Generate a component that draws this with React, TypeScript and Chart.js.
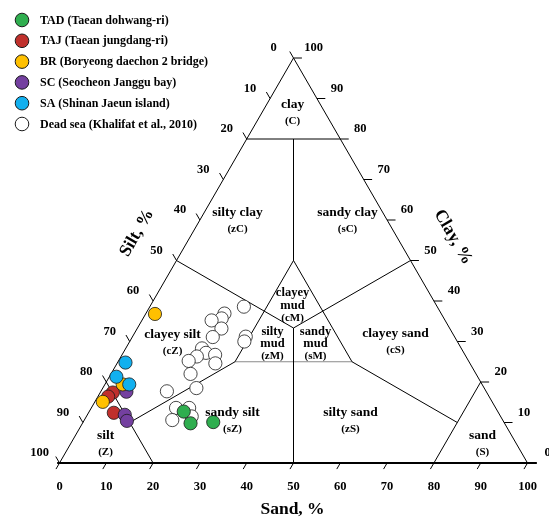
import React, { useEffect, useRef } from "react";
import { Chart, registerables } from "chart.js";
Chart.register(...registerables);

// ---- data (percentages: sand, clay; silt = 100 - sand - clay) ----
const SERIES_LABELS = [
  "TAD (Taean dohwang-ri)",
  "TAJ (Taean jungdang-ri)",
  "BR (Boryeong daechon 2 bridge)",
  "SC (Seocheon Janggu bay)",
  "SA (Shinan Jaeun island)",
  "Dead sea (Khalifat et al., 2010)",
];
const SERIES_COLORS = ["#2fae4f", "#c0302c", "#ffc000", "#7440a0", "#12b0ef", "#ffffff"];

const TAD_SAND = [20.2, 23.1, 27.8];
const TAD_CLAY = [12.7, 9.8, 10.1];
const TAJ_SAND = [2.7, 2.2, 5.4];
const TAJ_CLAY = [17.4, 16.4, 12.4];
const BR_SAND = [2.0, 3.8, 1.7];
const BR_CLAY = [36.8, 19.4, 15.1];
const SC_SAND = [5.5, 8.0, 9.2];
const SC_CLAY = [17.6, 11.9, 10.4];
const SA_SAND = [1.7, 1.5, 5.2];
const SA_CLAY = [24.8, 21.3, 19.4];
const DS_SAND = [20.1, 16.8, 16.8, 14.9, 18.0, 17.2, 24.2, 24.5, 16.3, 17.7, 19.9, 16.2, 15.0, 21.0, 17.0, 20.0, 14.1, 18.1, 20.9, 18.8, 22.5];
const DS_CLAY = [38.6, 36.9, 35.7, 35.2, 33.2, 31.1, 31.2, 30.0, 28.3, 27.2, 26.7, 26.3, 25.2, 24.6, 22.0, 18.5, 17.7, 13.6, 13.6, 10.6, 11.5];

const TICKS = [0, 10, 20, 30, 40, 50, 60, 70, 80, 90, 100];

const REGION_NAMES = [
  ["clay"], ["silty clay"], ["sandy clay"], ["clayey", "mud"], ["silty", "mud"], ["sandy", "mud"],
  ["clayey silt"], ["clayey sand"], ["silt"], ["sand"], ["sandy silt"], ["silty sand"],
];
const REGION_CODES = ["(C)", "(zC)", "(sC)", "(cM)", "(zM)", "(sM)", "(cZ)", "(cS)", "(Z)", "(S)", "(sZ)", "(zS)"];

// ---- layout ----
const FONT = '"Liberation Serif", "Times New Roman", Times, serif';
const X_MIN = -59.5 / 4.68;
const X_MAX = (549 - 59.5) / 4.68;
const Y_MIN = (463 - 520) / 4.05;
const Y_MAX = 463 / 4.05;
// label anchors in chart units [x, y]
const REGION_POS = [
  [49.79, 86.42], [38.03, 59.75], [61.54, 59.75], [49.79, 38.89], [45.51, 29.38], [54.7, 29.38],
  [24.15, 29.63], [71.79, 29.88], [9.83, 4.69], [90.38, 4.69], [36.97, 10.37], [62.18, 10.37],
];

const toXY = (sand: number, clay: number) => ({ x: sand + clay / 2, y: clay });

// classification boundaries as [sand, clay] pairs
const C3 = 100 / 3;
const SOLID_LINES: number[][][] = [
  [[0, 0], [0, 100]],
  [[100, 0], [0, 100]],
  [[0, 80], [20, 80]],
  [[10, 80], [25, 50]],
  [[25, 50], [25, 25]],
  [[25, 50], [50, 25]],
  [[C3, C3], [50, 0]],
  [[0, 50], [C3, C3]],
  [[50, 50], [C3, C3]],
  [[20, 0], [0, 20]],
  [[80, 0], [80, 20]],
  [[10, 10], [25, 25]],
  [[80, 10], [50, 25]],
];
const GREY_LINES: number[][][] = [[[25, 25], [50, 25]]];

function makeLine(pts: number[][], color: string, width: number) {
  return {
    type: "scatter" as const,
    data: pts.map((p) => toXY(p[0], p[1])),
    showLine: true,
    borderColor: color,
    borderWidth: width,
    pointRadius: 0,
    fill: false,
    order: 20,
  };
}

function pointSet(sand: number[], clay: number[], color: string, order: number) {
  return {
    type: "scatter" as const,
    data: sand.map((s, i) => toXY(s, clay[i])),
    backgroundColor: color,
    borderColor: "#1a1a1a",
    borderWidth: 0.8,
    pointRadius: 6.6,
    showLine: false,
    order,
  };
}

const textPlugin = {
  id: "ternaryText",
  afterDatasetsDraw(chart: any) {
    const ctx = chart.ctx as CanvasRenderingContext2D;
    const xs = chart.scales.x;
    const ys = chart.scales.y;
    const tp = (sand: number, clay: number) => [
      xs.getPixelForValue(sand + clay / 2),
      ys.getPixelForValue(clay),
    ];
    ctx.save();
    ctx.fillStyle = "#000";
    ctx.textAlign = "center";
    ctx.textBaseline = "middle";
    ctx.font = `bold 12.5px ${FONT}`;
    TICKS.forEach((v) => {
      const [bx, by] = tp(v, 0);
      ctx.fillText(String(v), bx, by + 24);
      const [lx, ly] = tp(0, 100 - v);
      ctx.fillText(String(v), lx - 20, ly - 10);
      const [rx, ry] = tp(100 - v, v);
      ctx.fillText(String(v), rx + 20, ry - 10);
    });

    // axis titles
    ctx.font = `bold 17.5px ${FONT}`;
    const [sx, sy] = tp(49.79 - (-11.6) / 2, -11.6);
    ctx.fillText("Sand, %", sx, sy);
    ctx.save();
    ctx.translate(137, 233);
    ctx.rotate((-60 * Math.PI) / 180);
    ctx.fillText("Silt, %", 0, 0);
    ctx.restore();
    ctx.save();
    ctx.translate(453, 237);
    ctx.rotate((60 * Math.PI) / 180);
    ctx.fillText("Clay, %", 0, 0);
    ctx.restore();

    // region labels
    REGION_NAMES.forEach((lines, i) => {
      const cx = xs.getPixelForValue(REGION_POS[i][0]);
      const cy = ys.getPixelForValue(REGION_POS[i][1]);
      if (lines.length === 1) {
        ctx.font = `bold 13.5px ${FONT}`;
        ctx.fillText(lines[0], cx, cy - 8);
        ctx.font = `bold 11px ${FONT}`;
        ctx.fillText(REGION_CODES[i], cx, cy + 8.5);
      } else {
        ctx.font = `bold 12.5px ${FONT}`;
        ctx.fillText(lines[0], cx, cy - 12.5);
        ctx.fillText(lines[1], cx, cy);
        ctx.font = `bold 11px ${FONT}`;
        ctx.fillText(REGION_CODES[i], cx, cy + 12.5);
      }
    });

    // legend
    ctx.textAlign = "left";
    ctx.font = `bold 12px ${FONT}`;
    SERIES_LABELS.forEach((label, i) => {
      const y = 20 + 20.8 * i;
      ctx.beginPath();
      ctx.arc(22, y, 6.8, 0, Math.PI * 2);
      ctx.fillStyle = SERIES_COLORS[i];
      ctx.fill();
      ctx.lineWidth = 1;
      ctx.strokeStyle = "#1a1a1a";
      ctx.stroke();
      ctx.fillStyle = "#000";
      ctx.fillText(label, 40, y + 0.5);
    });
    ctx.restore();
  },
};

export default function App() {
  const ref = useRef<HTMLCanvasElement | null>(null);
  useEffect(() => {
    if (!ref.current) return;
    const datasets: any[] = [
      pointSet(TAD_SAND, TAD_CLAY, SERIES_COLORS[0], 5),
      pointSet(TAJ_SAND, TAJ_CLAY, SERIES_COLORS[1], 4),
      pointSet(BR_SAND, BR_CLAY, SERIES_COLORS[2], 2),
      pointSet(SC_SAND, SC_CLAY, SERIES_COLORS[3], 3),
      pointSet(SA_SAND, SA_CLAY, SERIES_COLORS[4], 1),
      pointSet(DS_SAND, DS_CLAY, SERIES_COLORS[5], 6),
    ];
    SOLID_LINES.forEach((l) => datasets.push(makeLine(l, "#000", 1)));
    GREY_LINES.forEach((l) => datasets.push(makeLine(l, "#8a8a8a", 1.2)));
    datasets.push(makeLine([[-0.5, 0], [102, 0]], "#000", 2));
    // ticks
    TICKS.forEach((v) => {
      datasets.push(makeLine([[v, 0], [v, -1.5]], "#000", 1));
      datasets.push(makeLine([[0, 100 - v], [-1.6, 100 - v + 1.6]], "#000", 1));
      datasets.push(makeLine([[100 - v, v], [100 - v + 1.8, v]], "#000", 1));
    });

    const chart = new Chart(ref.current, {
      type: "scatter",
      data: { datasets },
      options: {
        responsive: false,
        animation: false,
        events: [],
        layout: { padding: 0, autoPadding: false },
        plugins: { legend: { display: false }, tooltip: { enabled: false } },
        scales: {
          x: { type: "linear", display: false, min: X_MIN, max: X_MAX },
          y: { type: "linear", display: false, min: Y_MIN, max: Y_MAX },
        },
      },
      plugins: [textPlugin],
    });
    return () => chart.destroy();
  }, []);
  return (
    <div style={{ position: "absolute", left: 0, top: 0, width: 549, height: 520, background: "#fff" }}>
      <canvas ref={ref} width={549} height={520} style={{ display: "block" }} />
    </div>
  );
}
